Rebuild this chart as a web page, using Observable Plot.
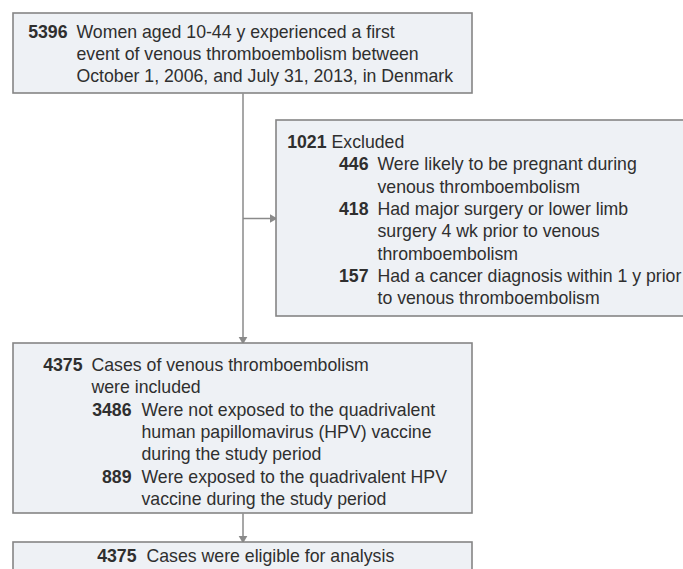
<!DOCTYPE html>
<html>
<head>
<meta charset="utf-8">
<script src="https://cdn.jsdelivr.net/npm/d3@7"></script>
<script src="https://cdn.jsdelivr.net/npm/@observablehq/plot@0.6"></script>
<style>
  html, body { margin: 0; padding: 0; background: #fff; }
  #chart svg { display: block; }
</style>
</head>
<body>
<div id="chart"></div>
<script>
// ---- Data (counts and labels) ----
const startCount = 5396;
const startLabel = ["Women aged 10-44 y experienced a first", "event of venous thromboembolism between", "October 1, 2006, and July 31, 2013, in Denmark"];

const excludedCount = 1021;
const excludedLabel = ["Excluded"];
const excludedReasonCounts = [446, 418, 157];
const excludedReasonLabels = [
  ["Were likely to be pregnant during", "venous thromboembolism"],
  ["Had major surgery or lower limb", "surgery 4 wk prior to venous", "thromboembolism"],
  ["Had a cancer diagnosis within 1 y prior", "to venous thromboembolism"]
];

const includedCount = 4375;
const includedLabel = ["Cases of venous thromboembolism", "were included"];
const exposureCounts = [3486, 889];
const exposureLabels = [
  ["Were not exposed to the quadrivalent", "human papillomavirus (HPV) vaccine", "during the study period"],
  ["Were exposed to the quadrivalent HPV", "vaccine during the study period"]
];

const analysisCount = 4375;
const analysisLabel = ["Cases were eligible for analysis"];

// ---- Layout ----
const W = 683, H = 569;
const LINE = 22.3;
const FS = 17.7;
const boxFill = "#eef1f5", boxStroke = "#858585", ink = "#2f2f2f", connector = "#8a8a8a";

const boxes = [
  {x1: 13, x2: 472, y1: 13, y2: 93},
  {x1: 276, x2: 690, y1: 120, y2: 316},
  {x1: 13, x2: 472, y1: 343, y2: 513},
  {x1: 13, x2: 472, y1: 542, y2: 600}
];

const nums = [];
const texts = [];
function block(count, lines, numRight, textLeft, yStart) {
  nums.push({x: numRight, y: yStart, t: String(count)});
  lines.forEach((l, i) => texts.push({x: textLeft, y: yStart + i * LINE, t: l}));
  return yStart + lines.length * LINE;
}

block(startCount, startLabel, 67, 76, 31.5);

let y = block(excludedCount, excludedLabel, 326, 331, 142);
excludedReasonCounts.forEach((c, i) => { y = block(c, excludedReasonLabels[i], 368, 377, y); });

y = block(includedCount, includedLabel, 82, 91, 365);
exposureCounts.forEach((c, i) => { y = block(c, exposureLabels[i], 131, 141, y); });

block(analysisCount, analysisLabel, 136, 146, 556);

const cx = (boxes[0].x1 + boxes[0].x2) / 2;
const links = [
  {x1: cx, y1: boxes[0].y2, x2: cx, y2: boxes[2].y1 - 3},
  {x1: cx, y1: 218, x2: boxes[1].x1 - 3, y2: 218},
  {x1: cx, y1: boxes[2].y2, x2: cx, y2: boxes[3].y1 - 3}
];
const heads = [
  {x: cx, y: boxes[2].y1 - 4, r: 180},
  {x: boxes[1].x1 - 4, y: 218, r: 90},
  {x: cx, y: boxes[3].y1 - 4, r: 180}
];

const font = "'Liberation Sans', Arial, sans-serif";

const chart = Plot.plot({
  width: W,
  height: H,
  margin: 0,
  x: {domain: [0, W], range: [0, W], axis: null},
  y: {domain: [0, H], range: [0, H], axis: null},
  style: {background: "#fff", fontFamily: font},
  marks: [
    Plot.link(links, {x1: "x1", y1: "y1", x2: "x2", y2: "y2", stroke: connector, strokeWidth: 1.5}),
    Plot.dot(heads, {x: "x", y: "y", rotate: "r", symbol: "triangle", r: 3.2, fill: connector, stroke: "none"}),
    Plot.rect(boxes, {x1: "x1", x2: "x2", y1: "y1", y2: "y2", fill: boxFill, stroke: boxStroke, strokeWidth: 1.6}),
    Plot.text(nums, {x: "x", y: "y", text: "t", textAnchor: "end", fontWeight: "bold", fontSize: FS, fill: ink, fontFamily: font}),
    Plot.text(texts, {x: "x", y: "y", text: "t", textAnchor: "start", fontSize: FS, fill: ink, fontFamily: font})
  ]
});
document.getElementById("chart").appendChild(chart);
</script>
</body>
</html>
